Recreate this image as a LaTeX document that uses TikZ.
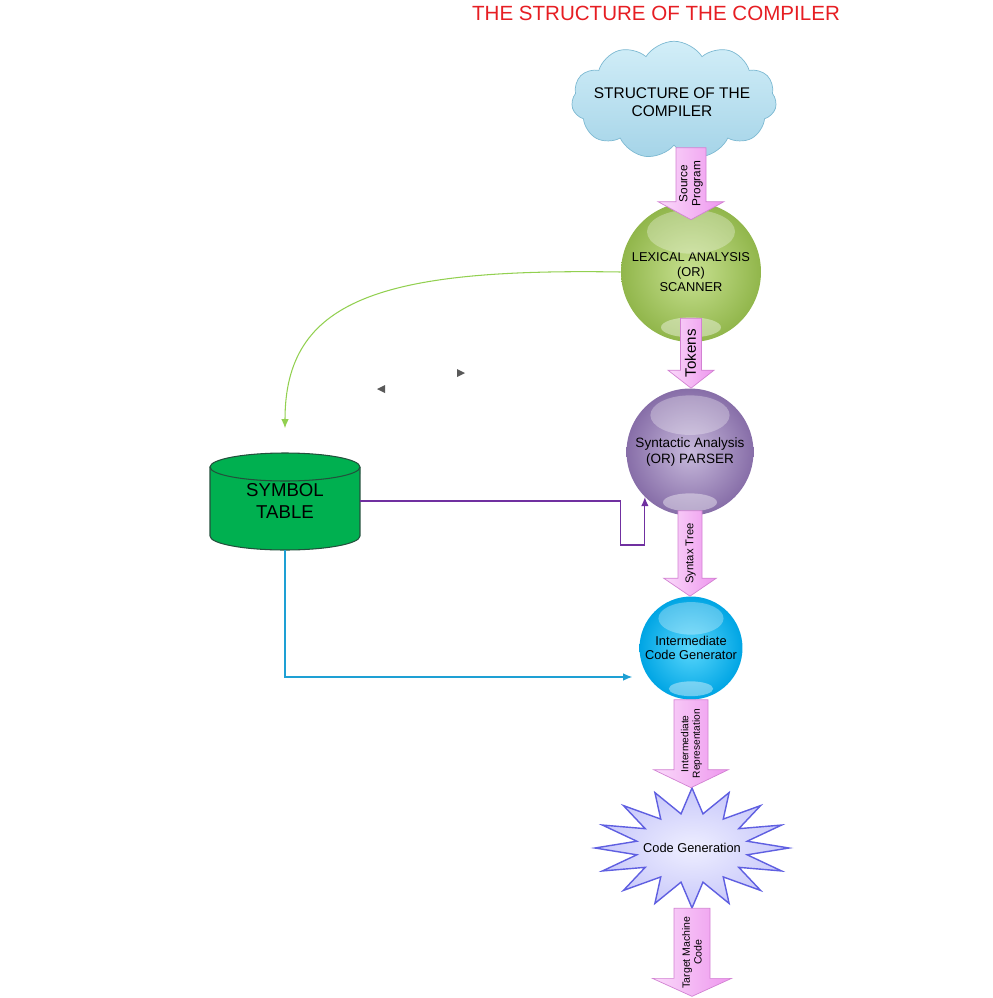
\documentclass[tikz,border=0pt]{standalone}
\usepackage{fontspec}
\setmainfont{Liberation Sans}
\usetikzlibrary{positioning,arrows.meta,calc,shapes.geometric,shapes.symbols}

\definecolor{titlered}{RGB}{230,30,35}
\definecolor{cloudblue}{RGB}{165,212,232}
\definecolor{cloudtop}{RGB}{210,238,248}
\definecolor{cloudedge}{RGB}{125,185,210}
\definecolor{lexgreen}{RGB}{145,182,75}
\definecolor{lexlight}{RGB}{200,225,145}
\definecolor{synpurple}{RGB}{135,110,168}
\definecolor{synlight}{RGB}{200,186,220}
\definecolor{icgblue}{RGB}{0,165,228}
\definecolor{icglight}{RGB}{90,215,252}
\definecolor{starfill}{RGB}{200,200,250}
\definecolor{starlight}{RGB}{238,238,255}
\definecolor{staredge}{RGB}{95,95,225}
\definecolor{symgreen}{RGB}{0,176,80}
\definecolor{symedge}{RGB}{35,80,60}
\definecolor{pinkdark}{RGB}{238,150,238}
\definecolor{pinklight}{RGB}{250,218,250}
\definecolor{pinkedge}{RGB}{210,130,210}
\definecolor{greenline}{RGB}{146,208,80}
\definecolor{purpleline}{RGB}{112,48,160}
\definecolor{blueline}{RGB}{30,160,212}

% fat pink arrow: name, top, tip, half shaft width, font, label
\newcommand{\blockarrow}[6]{%
  \draw[fatarrow] let \p1=#2, \p2=#3 in
    (\x1-#4,\y1) -- (\x1+#4,\y1) -- (\x1+#4,\y2+0.36cm) -- (\x1+2.2*#4,\y2+0.36cm)
    -- (\x1,\y2) -- (\x1-2.2*#4,\y2+0.36cm) -- (\x1-#4,\y2+0.36cm) -- cycle;
  \node[arrowlabel, font=#5] (#1) at ($#2!0.5!#3$) {#6};
}
% glossy highlights on a ball
\newcommand{\gloss}[2]{%
  \fill[white, opacity=0.3] ([yshift=-#2*0.6cm]#1.north) ellipse ({#2*0.88cm} and {#2*0.44cm});
  \fill[white, opacity=0.4] ([yshift=#2*0.3cm]#1.south) ellipse ({#2*0.6cm} and {#2*0.2cm});
}

\begin{document}
\begin{tikzpicture}[
	x=0.02cm, y=-0.02cm,
	every node/.style={font=\fontsize{7.3}{8.4}\selectfont},
	title/.style={text=titlered, font=\fontsize{11.7}{13}\selectfont},
	cloudbox/.style={cloud, cloud puffs=11, cloud puff arc=115, draw=cloudedge, top color=cloudtop, bottom color=cloudblue, minimum width=4.1cm, minimum height=2.35cm, inner sep=0pt},
	cloudtext/.style={align=center, font=\fontsize{8.8}{10}\selectfont},
	ball/.style={circle, inner sep=0pt, align=center},
	starshape/.style={draw=staredge, thick, inner color=starlight, outer color=starfill},
	symbody/.style={draw=symedge, fill=symgreen, line width=0.6pt},
	symtext/.style={minimum width=3cm, minimum height=1.94cm, inner sep=0pt, align=center, font=\fontsize{10.6}{12}\selectfont},
	fatarrow/.style={draw=pinkedge, left color=pinklight, right color=pinkdark},
	arrowlabel/.style={rotate=90, align=center, inner sep=0pt},
	link/.style={line width=0.6pt, -{Latex[length=1.8mm, width=1.5mm]}}
	]
	
	\useasboundingbox (0,0) rectangle (992,998);
	
	\node[title] (title) at (656,13) {THE STRUCTURE OF THE COMPILER};
	
	\node[cloudbox] (cloud) at (674,100) {};
	\node[cloudtext] (cloudlabel) at (672,102) {STRUCTURE OF THE\\COMPILER};
	
	\node[ball, minimum size=2.8cm, inner color=lexlight, outer color=lexgreen] (lex) at (691,272) {LEXICAL ANALYSIS\\(OR)\\SCANNER};
	\node[ball, minimum size=2.54cm, inner color=synlight, outer color=synpurple, font=\fontsize{7.7}{9.2}\selectfont] (syn) at (690,452) {Syntactic Analysis\\(OR) PARSER};
	\node[ball, minimum size=2.06cm, inner color=icglight, outer color=icgblue] (icg) at (691,648) {Intermediate\\Code Generator};
	
	\gloss{lex}{1}
	\gloss{syn}{0.9}
	\gloss{icg}{0.74}
	
	\coordinate (cgpos) at (692,848);
	\draw[starshape, shift={(cgpos)}] plot[samples at={0,...,31}, variable=\t]
		({(1-0.42*mod(\t,2))*97*cos(\t*11.25)}, {(1-0.42*mod(\t,2))*60*sin(\t*11.25)}) -- cycle;
	\node[minimum width=3.9cm, minimum height=2.4cm] (cg) at (cgpos) {Code Generation};
	
	% symbol table drum
	\filldraw[symbody] (210,467) -- (210,536) arc[start angle=180, end angle=360, x radius=1.5cm, y radius=0.28cm]
		-- (360,467) arc[start angle=0, end angle=180, x radius=1.5cm, y radius=0.28cm] -- cycle;
	\draw[symbody, fill=none] (210,467) arc[start angle=180, end angle=360, x radius=1.5cm, y radius=0.28cm];
	\node[symtext] (symtab) at (285,501) {SYMBOL\\TABLE};
	
	\blockarrow{srcarrow}{($(lex.north)+(0,-54)$)}{($(lex.north)+(0,18)$)}{0.3cm}{\fontsize{6.7}{7.4}\selectfont}{Source\\Program}
	\blockarrow{tokarrow}{($(lex.south)+(0,-24)$)}{(syn.north)}{0.21cm}{\fontsize{8.6}{9.6}\selectfont}{Tokens}
	\blockarrow{treearrow}{($(syn.south)+(0,-5)$)}{(icg.north)}{0.24cm}{\fontsize{6.4}{7.4}\selectfont}{Syntax Tree}
	\blockarrow{irarrow}{(icg.south)}{(cg.north)}{0.34cm}{\fontsize{5.8}{6.6}\selectfont}{Intermediate\\Representation}
	\blockarrow{tmcarrow}{(cg.south)}{($(cg.south)+(0,88)$)}{0.36cm}{\fontsize{6}{6.8}\selectfont}{Target Machine\\Code}
	
	\draw[link, greenline] (lex.west) .. controls (380,268) and (285,300) .. ($(symtab.north)+(0,-24)$);
	\draw[link, purpleline] (symtab.east) -- ++(260,0) -- ++(0,44) -| (syn.south west);
	\draw[link, blueline] (symtab.south) |- ($(icg.west)+(-7,29)$);
	
	% small stray pointers
	\fill[black!65] (385,385) -- (377,389) -- (385,393) -- cycle;
	\fill[black!65] (457,369) -- (465,373) -- (457,377) -- cycle;
	
\end{tikzpicture}
\end{document}
